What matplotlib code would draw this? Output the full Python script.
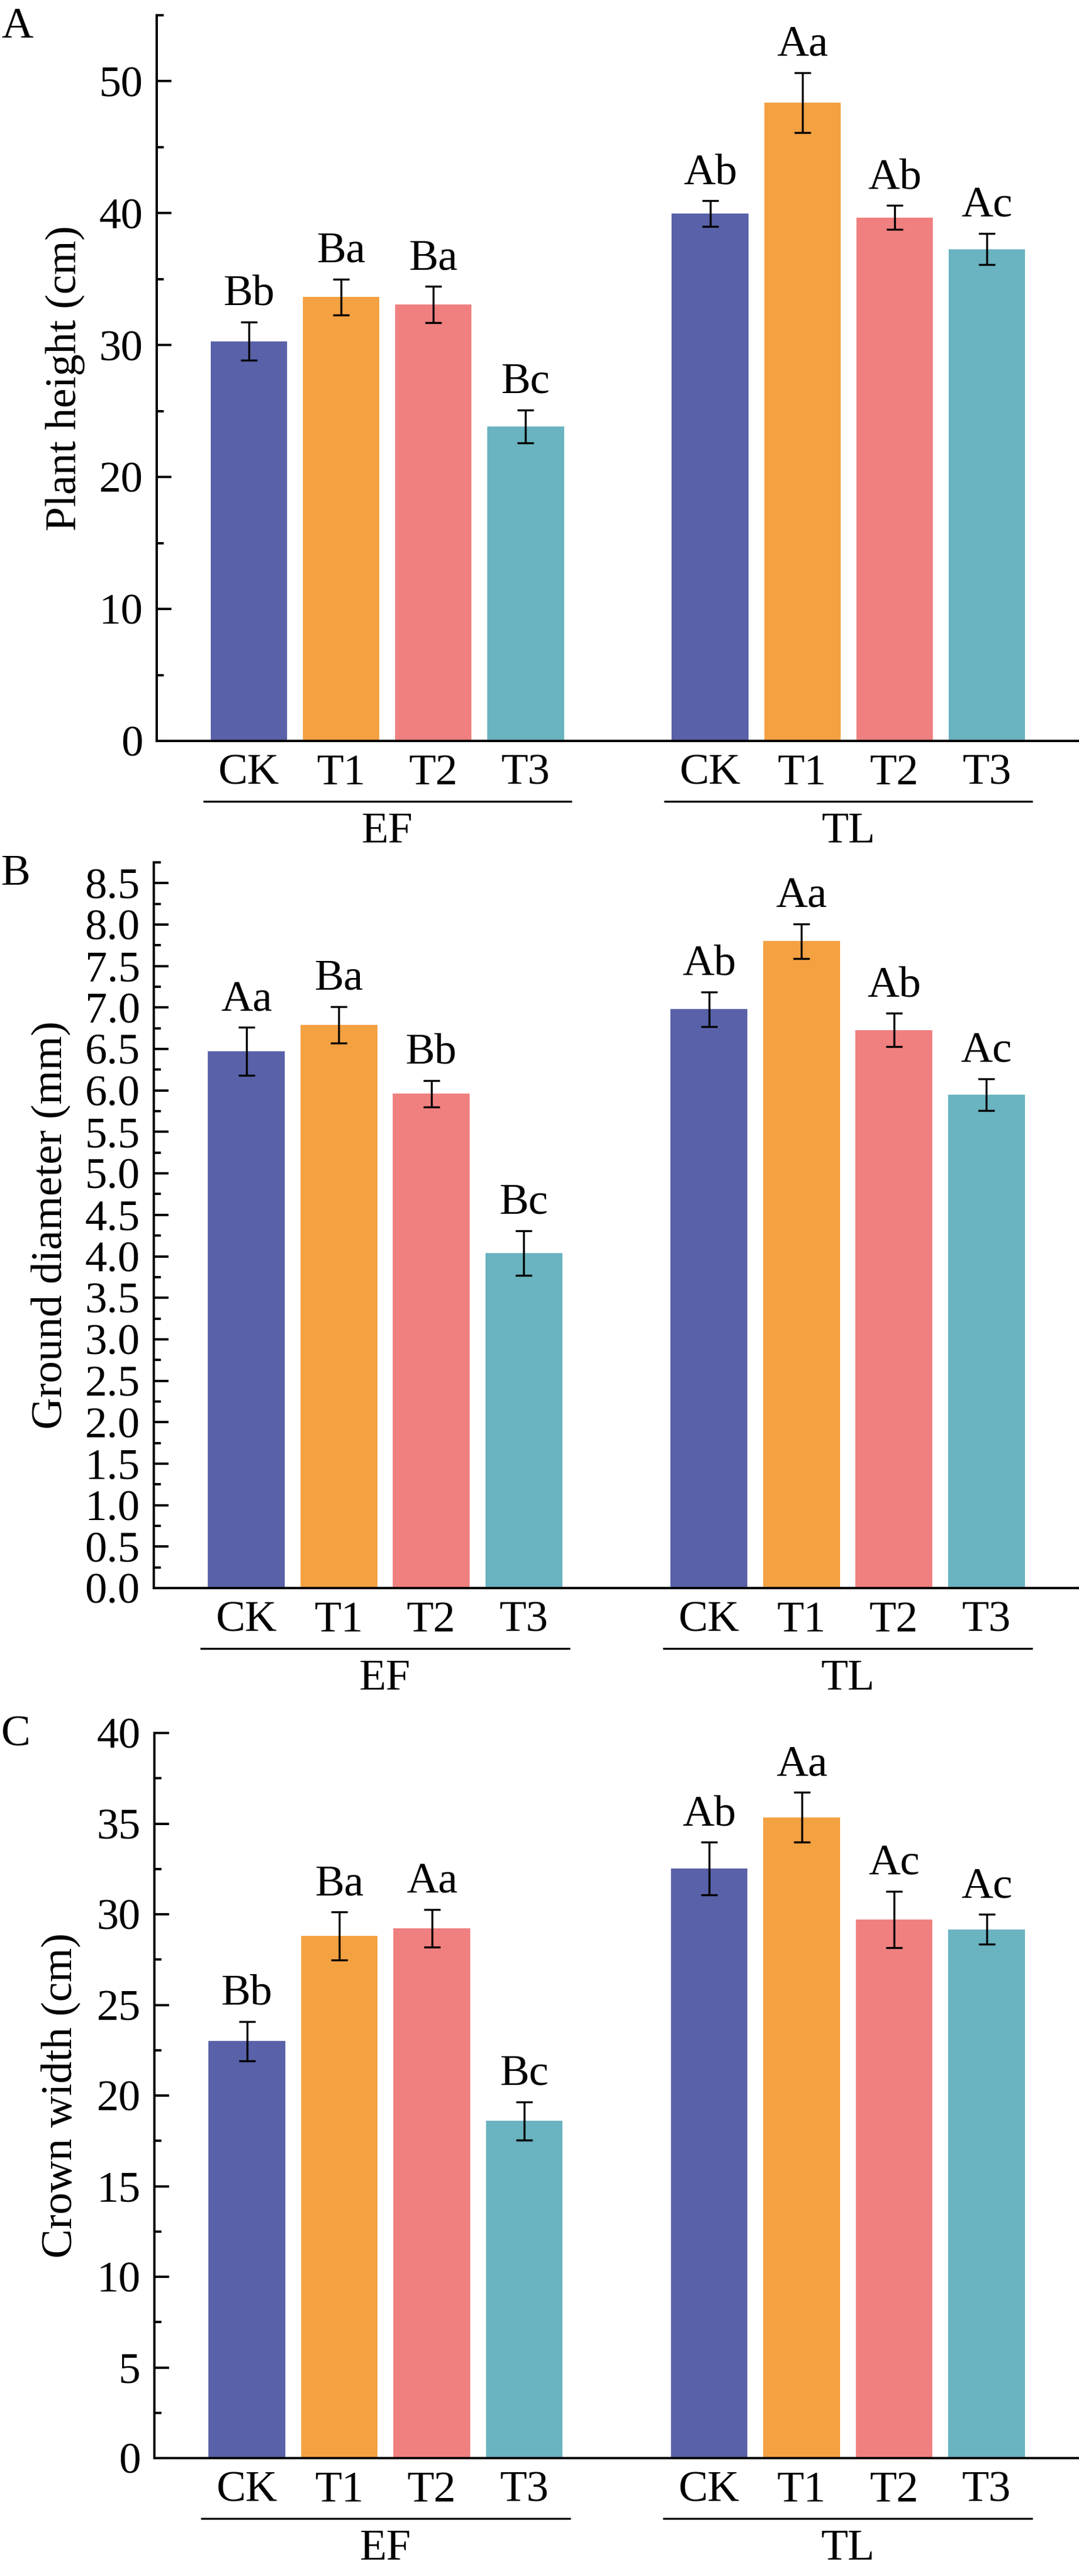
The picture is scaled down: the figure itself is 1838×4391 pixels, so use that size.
import matplotlib
matplotlib.use("Agg")
import matplotlib.pyplot as plt
from matplotlib.ticker import MultipleLocator, FormatStrFormatter
import numpy as np

plt.rcParams['font.family'] = ['Liberation Serif', 'DejaVu Serif']

# ---------------- data ----------------
groups = ["EF", "TL"]
treatments = ["CK", "T1", "T2", "T3"]
colors = ["#5961A9", "#F4A142", "#F08080", "#6AB3C0"]

height_mean = [30.3, 33.65, 33.07, 23.84, 39.96, 48.37, 39.67, 37.28]
height_err = [1.45, 1.36, 1.38, 1.24, 0.97, 2.27, 0.91, 1.18]
height_sig = ["Bb", "Ba", "Ba", "Bc", "Ab", "Aa", "Ab", "Ac"]

diam_mean = [6.47, 6.79, 5.96, 4.04, 6.98, 7.80, 6.73, 5.95]
diam_err = [0.29, 0.22, 0.16, 0.27, 0.21, 0.21, 0.20, 0.19]
diam_sig = ["Aa", "Ba", "Bb", "Bc", "Ab", "Aa", "Ab", "Ac"]

crown_mean = [23.0, 28.8, 29.23, 18.6, 32.52, 35.35, 29.72, 29.17]
crown_err = [1.08, 1.32, 1.03, 1.06, 1.45, 1.37, 1.55, 0.82]
crown_sig = ["Bb", "Ba", "Aa", "Bc", "Ab", "Aa", "Ac", "Ac"]

ylabels = ["Plant height (cm)", "Ground diameter (mm)", "Crown width (cm)"]
panel_letters = ["A", "B", "C"]

# ---------------- layout ----------------
W, H = 1838, 4391
DPI = 100
fig = plt.figure(figsize=(W / DPI, H / DPI), dpi=DPI)

FS = 54
LW = 2.9

# (left_px, top_px, bottom_px)
panels_px = [(267, 26, 1263), (262, 1470, 2707), (263, 2954, 4190)]
ylims = [(0, 55), (0, 8.75), (0, 40)]
majors = [10, 0.5, 5]
minors = [5, 0.25, 2.5]
ylabel_x = [111, 86, 103]
letter_top = [12, 1456, 2924]
datasets = [(height_mean, height_err, height_sig),
            (diam_mean, diam_err, diam_sig),
            (crown_mean, crown_err, crown_sig)]

xpos = np.array([0, 1, 2, 3, 5, 6, 7, 8], dtype=float)
bar_colors = colors * 2
tick_labels = treatments * 2

for i in range(3):
    lpx, tpx, bpx = panels_px[i]
    ax = fig.add_axes([lpx / W, 1 - bpx / H, 1 - lpx / W, (bpx - tpx) / H])
    mean, err, sig = datasets[i]
    ax.bar(xpos, mean, width=0.83, color=bar_colors, edgecolor='none', zorder=2)
    ax.errorbar(xpos, mean, yerr=err, fmt='none', ecolor='black',
                elinewidth=2.45, capsize=10.3, capthick=2.45, zorder=3)
    for x, m, e, s in zip(xpos, mean, err, sig):
        ax.annotate(s, xy=(x, m + e), xytext=(0, 21), textcoords='offset points',
                    ha='center', va='baseline', fontsize=FS)

    ax.set_xlim(-1, 9)
    ax.set_ylim(*ylims[i])
    ax.yaxis.set_major_locator(MultipleLocator(majors[i]))
    ax.yaxis.set_minor_locator(MultipleLocator(minors[i]))
    if i == 1:
        ax.yaxis.set_major_formatter(FormatStrFormatter('%.1f'))
    else:
        ax.yaxis.set_major_formatter(FormatStrFormatter('%d'))

    ax.set_xticks(xpos)
    ax.set_xticklabels(tick_labels)
    ax.tick_params(axis='x', length=0, pad=16, labelsize=FS)
    ax.tick_params(axis='y', which='major', direction='in', length=18, width=LW,
                   pad=17, labelsize=FS)
    ax.tick_params(axis='y', which='minor', direction='in', length=8.6, width=LW)

    for sp in ['top', 'right']:
        ax.spines[sp].set_visible(False)
    for sp in ['left', 'bottom']:
        ax.spines[sp].set_linewidth(LW)

    hpx = bpx - tpx
    trans = ax.get_xaxis_transform()
    line_y = -103 / hpx
    text_y = -155 / hpx
    for g, (x0, x1) in zip(groups, [(-0.5, 3.5), (4.5, 8.5)]):
        ax.plot([x0, x1], [line_y, line_y], color='black', lw=2.4,
                transform=trans, clip_on=False, solid_capstyle='butt')
        ax.text((x0 + x1) / 2, text_y, g, transform=trans, ha='center',
                va='center', fontsize=FS)

    fig.text(ylabel_x[i] / W, 1 - (tpx + bpx) / 2 / H, ylabels[i], rotation=90,
             ha='center', va='center', fontsize=54)
    fig.text(2 / W, 1 - letter_top[i] / H, panel_letters[i], ha='left', va='top',
             fontsize=54)

fig.savefig("out.png", dpi=DPI)
